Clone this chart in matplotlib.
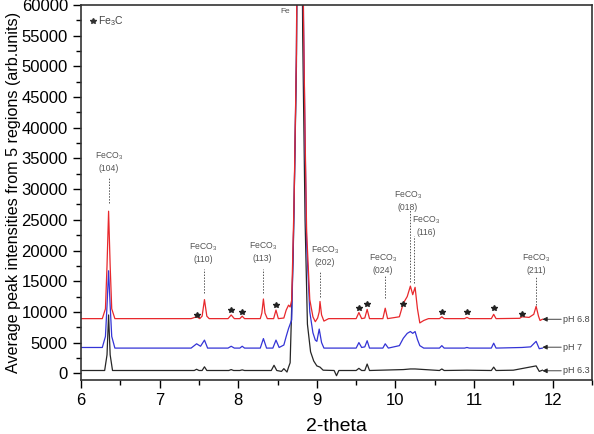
import numpy as np
import matplotlib
matplotlib.use("Agg")
import matplotlib.pyplot as plt

plt.rcParams['font.family'] = ['Liberation Sans', 'DejaVu Sans']
plt.rcParams['mathtext.fontset'] = 'custom'
plt.rcParams['mathtext.rm'] = 'Liberation Sans'
plt.rcParams['mathtext.it'] = 'Liberation Sans'

# pH 6.8 (red)
x_68 = [6.00, 6.27, 6.31, 6.33, 6.35, 6.37, 6.39, 6.43, 7.40, 7.47, 7.51, 7.54, 7.57, 7.60, 7.63,
        7.87, 7.91, 7.95, 8.02, 8.05, 8.08, 8.28, 8.30, 8.32, 8.34, 8.37, 8.45, 8.48, 8.51, 8.58,
        8.61, 8.64, 8.66, 8.68, 8.71, 8.74, 8.78, 8.83, 8.85, 8.87, 8.91, 8.95, 8.98, 9.01, 9.03,
        9.04, 9.06, 9.09, 9.15, 9.50, 9.535, 9.57, 9.61, 9.64, 9.67, 9.84, 9.87, 9.90, 10.05, 10.10,
        10.15, 10.19, 10.22, 10.25, 10.28, 10.31, 10.36, 10.42, 10.56, 10.59, 10.62, 10.88, 10.91,
        10.94, 11.22, 11.25, 11.28, 11.58, 11.61, 11.70, 11.76, 11.79, 11.82, 11.84, 11.87]
y_68 = [8900, 8900, 10500, 17500, 26400, 17500, 10500, 8900, 8900, 9200, 8900, 9300, 12000, 9300, 8900,
        8900, 9500, 8900, 8900, 9300, 8900, 8900, 9800, 12100, 9800, 8900, 8900, 10300, 8900, 9000,
        10300, 11100, 10800, 11900, 28000, 52000, 140000, 58000, 39000, 23000, 12000, 9200, 8400, 9000, 10000,
        11700, 9500, 8500, 8900, 8900, 9900, 8900, 9000, 10400, 8900, 8900, 10600, 8900, 9200, 11400,
        12500, 14200, 12800, 14000, 10500, 8200, 8600, 8900, 8900, 9200, 8900, 8900, 9100,
        8900, 8900, 9600, 8900, 8950, 9200, 9100, 9600, 10900, 9300, 8600, 8800]

# pH 7 (blue)
x_7 = [6.00, 6.27, 6.31, 6.33, 6.35, 6.37, 6.39, 6.43, 7.40, 7.47, 7.52, 7.57, 7.61, 7.87, 7.91,
       7.95, 8.02, 8.05, 8.08, 8.28, 8.32, 8.36, 8.44, 8.48, 8.52, 8.58, 8.61, 8.64, 8.68, 8.71,
       8.74, 8.78, 8.83, 8.85, 8.87, 8.91, 8.95, 8.98, 9.00, 9.03, 9.06, 9.09, 9.50, 9.535, 9.57,
       9.61, 9.64, 9.67, 9.84, 9.87, 9.91, 10.05, 10.10, 10.15, 10.19, 10.22, 10.25, 10.28, 10.31,
       10.36, 10.56, 10.59, 10.62, 10.88, 10.91, 10.94, 11.22, 11.25, 11.28, 11.61, 11.72, 11.79,
       11.83, 11.87]
y_7 = [4200, 4200, 6000, 11000, 16700, 11000, 6000, 4100, 4100, 4800, 4400, 5400, 4100, 4100, 4400,
       4100, 4100, 4400, 4100, 4100, 5650, 4100, 4100, 5400, 4200, 4600, 6000, 7300, 8700, 27000,
       52000, 140000, 58000, 38000, 21000, 10000, 6600, 5400, 5200, 7200, 5000, 4100, 4100, 5000, 4200,
       4300, 5300, 4100, 4100, 4800, 4100, 4500, 5700, 6500, 6800, 6500, 6800, 5500, 4500,
       4100, 4100, 4500, 4100, 4100, 4200, 4100, 4100, 4900, 4100, 4200, 4300, 5200,
       4000, 4100]

# pH 6.3 (black)
x_63 = [6.00, 6.30, 6.33, 6.35, 6.37, 6.40, 7.44, 7.47, 7.50, 7.54, 7.57, 7.60, 7.88, 7.91, 7.94,
        8.02, 8.05, 8.08, 8.42, 8.455, 8.49, 8.55, 8.58, 8.62, 8.64, 8.66, 8.70, 8.74, 8.78, 8.82,
        8.85, 8.88, 8.92, 8.96, 9.00, 9.04, 9.08, 9.22, 9.25, 9.28, 9.50, 9.535, 9.57, 9.61, 9.64,
        9.67, 10.10, 10.19, 10.25, 10.56, 10.59, 10.62, 10.91, 11.22, 11.25, 11.28, 11.50, 11.79,
        11.83, 11.87]
y_63 = [450, 450, 3000, 9500, 3000, 450, 450, 650, 450, 450, 1050, 450, 450, 600, 450,
        450, 550, 450, 450, 1300, 450, 300, 750, 200, 1000, 1700, 20000, 50000, 130000, 55000,
        25000, 8000, 3500, 2000, 1200, 1000, 500, 450, -400, 450, 450, 800, 450, 450, 1500,
        450, 600, 700, 700, 450, 700, 450, 500, 450, 1000, 450, 500, 1200,
        300, 500]

# Fe3C star positions
star_x = [7.47, 7.91, 8.05, 8.48, 9.535, 9.64, 10.10, 10.59, 10.91, 11.25, 11.61]
star_y = [9500, 10300, 10000, 11100, 10600, 11300, 11300, 9900, 9900, 10600, 9700]

# FeCO3 peak labels
peak_hkl = ['(104)', '(110)', '(113)', '(202)', '(024)', '(018)', '(116)', '(211)']
label_x = [6.35, 7.55, 8.31, 9.10, 9.84, 10.16, 10.39, 11.79]
label_y = [34400, 19700, 19800, 19200, 17800, 28100, 24100, 17800]
line_x = [6.35, 7.57, 8.32, 9.04, 9.87, 10.18, 10.24, 11.79]
line_top = [32000, 17000, 17000, 16600, 15800, 26600, 22300, 15800]
line_bot = [27700, 13100, 13100, 12500, 12200, 14900, 14700, 11100]

trace_names = ['pH 6.8', 'pH 7', 'pH 6.3']
trace_levels = [8800, 4250, 400]

fig = plt.figure(figsize=(5.94, 4.34), dpi=100)
ax = fig.add_axes([0.1365, 0.1244, 0.860, 0.8641])

ax.plot(x_63, y_63, color='#262626', lw=0.9)
ax.plot(x_7, y_7, color='#3434d6', lw=0.9)
ax.plot(x_68, y_68, color='#e8282c', lw=0.9)

ax.plot(star_x, star_y, '*', color='#222222', ms=3.8, mec='#222222')

for hkl, lx, ly, vx, t, b in zip(peak_hkl, label_x, label_y, line_x, line_top, line_bot):
    ax.text(lx, ly, 'FeCO$_3$\n' + hkl, ha='center', va='center', fontsize=6.2,
            color='#555555', linespacing=1.3)
    ax.plot([vx, vx], [b, t], color='#555555', lw=0.7, ls=(0, (1.5, 1.5)))

ax.text(8.60, 58900, 'Fe', ha='center', va='center', fontsize=6, color='#555555')
ax.plot([6.15], [57400], '*', color='#333333', ms=4)
ax.text(6.22, 57400, 'Fe$_3$C', ha='left', va='center', fontsize=7.5, color='#444444')

for name, lvl in zip(trace_names, trace_levels):
    ax.annotate('', xy=(11.87, lvl), xytext=(12.11, lvl),
                arrowprops=dict(arrowstyle='-|>', color='#222222', lw=0.6,
                                mutation_scale=7, shrinkA=0, shrinkB=0))
    ax.text(12.13, lvl, name, ha='left', va='center', fontsize=6.5, color='#444444')

ax.set_xlim(6, 12.5)
ax.set_ylim(-1100, 60000)
ax.set_xticks(np.arange(6, 13, 1))
ax.set_xticks(np.arange(6, 12.6, 0.5), minor=True)
ax.set_yticks(np.arange(0, 60001, 5000))
ax.set_yticks(np.arange(0, 60001, 2500), minor=True)
ax.tick_params(which='major', length=6, width=1.0, labelsize=12, direction='out')
ax.tick_params(which='minor', length=3.5, width=1.0, direction='out')
for sp in ax.spines.values():
    sp.set_linewidth(1.2)
    sp.set_color('#333333')

ax.set_xlabel('2-theta', fontsize=14, labelpad=7)
ax.set_ylabel('Average peak intensities from 5 regions (arb.units)', fontsize=11.6)
ax.yaxis.set_label_coords(-0.118, 0.5)

fig.savefig('out.png', dpi=100)
